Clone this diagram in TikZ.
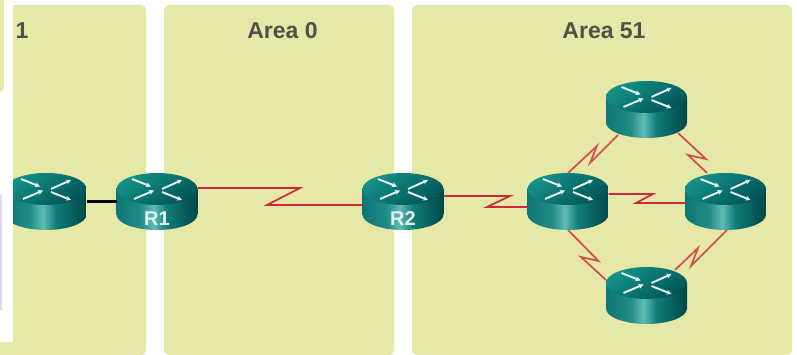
\documentclass[tikz,border=0pt]{standalone}
\usepackage{fontspec}
\setmainfont{Liberation Sans}
\usetikzlibrary{arrows.meta}
\definecolor{areagreen}{RGB}{229,232,166}
\definecolor{arealabel}{RGB}{80,80,76}
\definecolor{seriallink}{RGB}{204,40,62}
\definecolor{seriallight}{RGB}{214,76,78}
\definecolor{sideshadow}{RGB}{222,220,232}
\pgfdeclarehorizontalshading{routerside}{100bp}{
  color(0bp)=(rgb,255:red,14;green,118;blue,116);
  color(25bp)=(rgb,255:red,14;green,118;blue,116);
  color(40bp)=(rgb,255:red,32;green,140;blue,136);
  color(48bp)=(rgb,255:red,96;green,186;blue,180);
  color(56bp)=(rgb,255:red,18;green,124;blue,122);
  color(75bp)=(rgb,255:red,0;green,72;blue,72);
  color(100bp)=(rgb,255:red,0;green,72;blue,72)}
\tikzset{
  area/.style={fill=areagreen,rounded corners=5pt},
  areatext/.style={font=\fontsize{23}{23}\selectfont\bfseries,text=arealabel,inner sep=0pt},
  serial/.style={seriallink,line width=1.7pt},
  seriald/.style={seriallight,line width=1.7pt},
  routertext/.style={font=\fontsize{20}{20}\selectfont\bfseries,text={rgb,255:red,226;green,242;blue,238},inner sep=0pt,yshift=-17pt},
  routerbody/.style={rectangle,minimum width=81pt,minimum height=57pt,inner sep=0pt,outer sep=0pt,
    path picture={
      \begin{scope}[shift={(path picture bounding box.center)}]
        \shade[shading=routerside] (-40.5,12.5) -- (-40.5,-13) arc[x radius=40.5,y radius=15.5,start angle=180,end angle=360] -- (40.5,12.5) -- cycle;
        \shade[top color={rgb,255:red,20;green,146;blue,136},bottom color={rgb,255:red,0;green,84;blue,86},shading angle=35] (0,12.5) ellipse[x radius=40.5,y radius=16];
        \draw[routerarrow] (-25,22.5) -- (-6,15);
        \draw[routerarrow] (5,12.5) -- (25,21.5);
        \draw[routerarrow] (-23,2.5) -- (-3,11);
        \draw[routerarrow] (5,9.5) -- (25,1.5);
      \end{scope}
    }},
  routerarrow/.style={white!92!teal,line width=1.9pt,-{Stealth[length=5pt,width=5pt]}}
}
\begin{document}
\begin{tikzpicture}[x=1pt,y=1pt]
    \useasboundingbox (0,0) rectangle (797,355);
    \fill[white] (0,0) rectangle (797,355);
    % the three areas
    \fill[area] (-20,0) rectangle (146,350);
    \fill[area] (164,0) rectangle (394,350);
    \fill[area] (412,0) rectangle (792,350);
    \node[areatext] (areaone) at (22,324) {1};
    \node[areatext] (areazero) at (282.5,324) {Area 0};
    \node[areatext] (areafifty) at (604,324) {Area 51};
    % routers
    \node[routerbody] (R0) at (46,153.5) {};
    \node[routerbody,label={[routertext]center:R1}] (R1) at (157,153.5) {};
    \node[routerbody,label={[routertext]center:R2}] (R2) at (403,153.5) {};
    \node[routerbody] (Rm) at (568,153.5) {};
    \node[routerbody] (Rr) at (725.5,153.5) {};
    \node[routerbody] (Rt) at (646.5,245.5) {};
    \node[routerbody] (Rb) at (646.5,59.5) {};
    % links
    \draw[black,line width=2.2pt] (R0.east) -- (R1.west);
    \draw[serial] ([yshift=13.5pt]R1.east) -- (300,167) -- (267,150) -- ([yshift=-3.5pt]R2.west);
    \draw[serial] ([yshift=5.5pt]R2.east) -- (510,159) -- (487,148) -- ([yshift=-5.5pt]Rm.west);
    \draw[serial] ([yshift=7.5pt]Rm.east) -- (653,161) -- (636,152) -- ([yshift=-1.5pt]Rr.west);
    \draw[seriald] (Rm.north) -- (597,209) -- (590,192) -- ([xshift=-28.5pt,yshift=3pt]Rt.south);
    \draw[seriald] ([xshift=31.5pt,yshift=5pt]Rt.south) -- (706,196) -- (688,200) -- ([xshift=-18.5pt]Rr.north);
    \draw[seriald] (Rm.south) -- (598.5,94) -- (581,98) -- ([yshift=15.5pt]Rb.west);
    \draw[seriald] ([xshift=28.5pt,yshift=-3pt]Rb.north) -- (698,107) -- (691,89) -- ([xshift=1.5pt]Rr.south);
    % left edge
    \fill[white] (0,13) rectangle (13,355);
    \fill[sideshadow] (0,45) rectangle (2,160);
    \fill[area] (-10,263) rectangle (4,370);
\end{tikzpicture}
\end{document}
